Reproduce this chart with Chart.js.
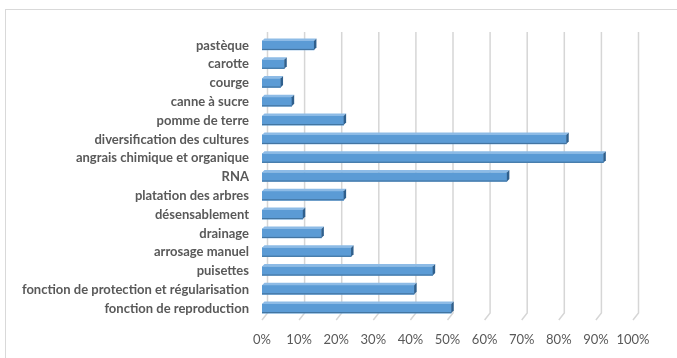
<!DOCTYPE html>
<html>
<head>
<meta charset="utf-8">
<script src="https://cdn.jsdelivr.net/npm/chart.js@4/dist/chart.umd.min.js"></script>
<style>
  html, body { margin: 0; padding: 0; background: #fff; }
  #wrap { position: relative; width: 677px; height: 358px; overflow: hidden; }
  #frame { position: absolute; left: 5px; top: 9px; width: 680px; height: 400px;
           border: 1px solid #d9d9d9; box-sizing: border-box; }
  canvas { position: absolute; left: 0; top: 0; }
</style>
</head>
<body>
<div id="wrap">
  <div id="frame"></div>
  <canvas id="c" width="677" height="358"></canvas>
</div>
<script>
// Pratiques et cultures citées (% des réponses)
const categories = [
  'pastèque',
  'carotte',
  'courge',
  'canne à sucre',
  'pomme de terre',
  'diversification des cultures',
  'angrais chimique et organique',
  'RNA',
  'platation des arbres',
  'désensablement',
  'drainage',
  'arrosage manuel',
  'puisettes',
  'fonction de protection et régularisation',
  'fonction de reproduction'
];
const percentages = [14, 6, 5, 8, 22, 82, 92, 66, 22, 11, 16, 24, 46, 41, 51];
const tickValues = [0, 10, 20, 30, 40, 50, 60, 70, 80, 90, 100];

const DEPTH_X = 5.5;   // back wall offset
const DEPTH_Y = 7;
const BAR_DX = 2.5;    // bar depth
const BAR_DY = 2.5;

// Back-wall gridlines with a slanted floor edge
const wallGrid = {
  id: 'wallGrid',
  beforeDatasetsDraw(chart) {
    const { ctx, chartArea, scales: { x } } = chart;
    const floor = chartArea.bottom + 2;
    ctx.save();
    ctx.strokeStyle = '#d6d6d6';
    ctx.lineWidth = 1.5;
    tickValues.forEach(v => {
      const xf = x.getPixelForValue(v);
      const xb = xf + DEPTH_X;
      ctx.beginPath();
      ctx.moveTo(xb, chartArea.top - 4);
      ctx.lineTo(xb, floor - DEPTH_Y);
      ctx.lineTo(xf, floor);
      ctx.stroke();
    });
    ctx.restore();
  }
};

// Top and end faces of each bar
const barFaces = {
  id: 'barFaces',
  afterDatasetsDraw(chart) {
    const { ctx } = chart;
    const meta = chart.getDatasetMeta(0);
    ctx.save();
    meta.data.forEach(bar => {
      const left = bar.base, right = bar.x;
      const top = bar.y - bar.height / 2, bottom = bar.y + bar.height / 2;
      // top face
      ctx.fillStyle = '#8dbbe6';
      ctx.beginPath();
      ctx.moveTo(left, top);
      ctx.lineTo(left + BAR_DX, top - BAR_DY);
      ctx.lineTo(right + BAR_DX, top - BAR_DY);
      ctx.lineTo(right, top);
      ctx.closePath();
      ctx.fill();
      // end face
      ctx.fillStyle = '#2f5f8c';
      ctx.beginPath();
      ctx.moveTo(right, top);
      ctx.lineTo(right + BAR_DX, top - BAR_DY);
      ctx.lineTo(right + BAR_DX, bottom - BAR_DY);
      ctx.lineTo(right, bottom);
      ctx.closePath();
      ctx.fill();
      // darker lower edge
      ctx.strokeStyle = '#41719c';
      ctx.lineWidth = 1;
      ctx.beginPath();
      ctx.moveTo(left, bottom - 0.5);
      ctx.lineTo(right, bottom - 0.5);
      ctx.stroke();
    });
    ctx.restore();
  }
};

new Chart(document.getElementById('c'), {
  type: 'bar',
  data: {
    labels: categories,
    datasets: [{
      data: percentages,
      backgroundColor: '#5b9bd5',
      borderWidth: 0,
      barThickness: 9
    }]
  },
  options: {
    indexAxis: 'y',
    responsive: false,
    animation: false,
    layout: { padding: { top: 36, right: 44, left: 0, bottom: 0 } },
    plugins: { legend: { display: false }, tooltip: { enabled: false } },
    scales: {
      x: {
        min: 0, max: 100,
        afterBuildTicks(scale) { scale.ticks = tickValues.map(v => ({ value: v })); },
        afterFit(scale) { scale.height = 40; },
        grid: { display: false, drawTicks: false },
        border: { display: false },
        ticks: {
          padding: 14,
          autoSkip: false,
          maxRotation: 0,
          minRotation: 0,
          color: '#595959',
          font: { family: 'Lato', size: 13 },
          callback: v => v + '%'
        }
      },
      y: {
        afterFit(scale) { scale.width = 262; },
        grid: { display: false, drawTicks: false },
        border: { display: false },
        ticks: {
          padding: 13,
          color: '#595959',
          font: { family: 'Lato', size: 13, weight: 'bold' }
        }
      }
    }
  },
  plugins: [wallGrid, barFaces]
});
</script>
</body>
</html>
